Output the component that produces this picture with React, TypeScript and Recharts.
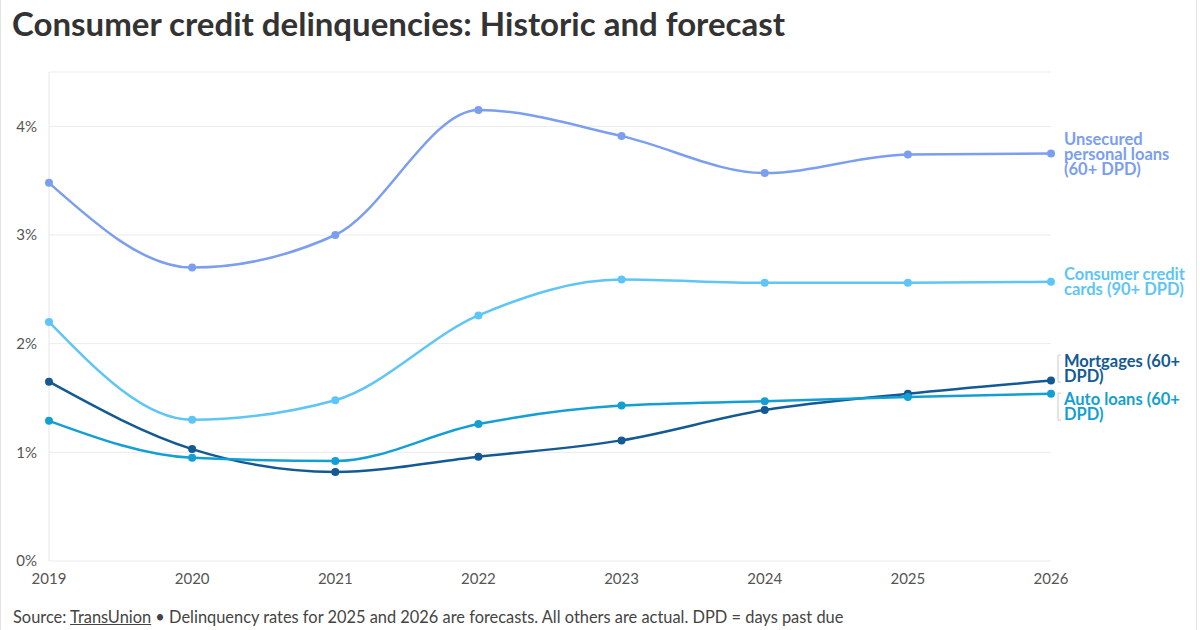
import { LineChart, Line, XAxis, YAxis, CartesianGrid } from "recharts";

const years = [2019, 2020, 2021, 2022, 2023, 2024, 2025, 2026];
const unsecured = [3.48, 2.7, 3.0, 4.15, 3.91, 3.57, 3.74, 3.75];
const cards = [2.2, 1.3, 1.48, 2.26, 2.59, 2.56, 2.56, 2.57];
const mortgages = [1.65, 1.03, 0.82, 0.96, 1.11, 1.39, 1.54, 1.66];
const autoLoans = [1.29, 0.95, 0.92, 1.26, 1.43, 1.47, 1.51, 1.54];
const yTicks = [0, 1, 2, 3, 4];

const data = years.map((year, i) => ({
  year,
  unsecured: unsecured[i],
  cards: cards[i],
  mortgages: mortgages[i],
  auto: autoLoans[i],
}));

const FONT = "Lato, 'Noto Sans', sans-serif";

const series = [
  { key: "unsecured", color: "#7b9ef0", lines: ["Unsecured", "personal loans", "(60+ DPD)"], shift: 0, bracket: false },
  { key: "cards", color: "#5ec5f6", lines: ["Consumer credit", "cards (90+ DPD)"], shift: 0, bracket: false },
  { key: "mortgages", color: "#135a94", lines: ["Mortgages (60+", "DPD)"], shift: -12.5, bracket: true },
  { key: "auto", color: "#139fd3", lines: ["Auto loans (60+", "DPD)"], shift: 12.5, bracket: true },
];

function endLabel(s: (typeof series)[number]) {
  return (props: any) => {
    const { x, y, index } = props;
    if (index !== years.length - 1) return null;
    const n = s.lines.length;
    const cy = y + s.shift;
    const top = cy - (n * 15) / 2;
    return (
      <g key={`lbl-${s.key}`}>
        {s.bracket && (
          <path
            d={`M${x + 10} ${top + 2} H${x + 7} V${top + n * 15 - 1} H${x + 10}`}
            fill="none"
            stroke="#cccccc"
            strokeWidth={1}
          />
        )}
        {s.lines.map((t, i) => (
          <text
            key={t}
            x={x + 13}
            y={cy + (i - (n - 1) / 2) * 15}
            dominantBaseline="central"
            fill={s.color}
            fontSize={16.5}
            fontWeight={700}
            fontFamily={FONT}
          >
            {t}
          </text>
        ))}
      </g>
    );
  };
}

export default function App() {
  return (
    <div
      style={{
        position: "absolute",
        left: 0,
        top: 0,
        width: 1200,
        height: 630,
        background: "#fff",
        fontFamily: FONT,
        overflow: "hidden",
        borderLeft: "1px solid #e4e4e4",
        boxSizing: "border-box",
      }}
    >
      <div
        style={{
          position: "absolute",
          left: 11,
          top: 3,
          fontSize: 33,
          fontWeight: 700,
          color: "#333333",
          whiteSpace: "nowrap",
        }}
      >
        Consumer credit delinquencies: Historic and forecast
      </div>
      <div style={{ position: "absolute", right: 3, top: 0, width: 1, height: 630, background: "#e4e4e4" }} />
      <div style={{ position: "absolute", left: 0, top: 0 }}>
        <LineChart
          width={1200}
          height={630}
          data={data}
          margin={{ top: 72, right: 150, bottom: 39, left: 12 }}
        >
          <CartesianGrid vertical={false} stroke="#ebebeb" />
          <XAxis
            dataKey="year"
            type="number"
            domain={[2019, 2026]}
            ticks={years}
            axisLine={false}
            tickLine={false}
            tickSize={0}
            tickMargin={12}
            tick={{ fill: "#555555", fontSize: 15, fontFamily: FONT }}
          />
          <YAxis
            width={36}
            domain={[0, 4.5]}
            ticks={yTicks}
            tickFormatter={(v) => `${v}%`}
            axisLine={{ stroke: "#e6e6e6" }}
            tickLine={false}
            tickSize={0}
            tickMargin={12}
            tick={{ fill: "#555555", fontSize: 15, fontFamily: FONT }}
          />
          {series.map((s) => (
            <Line
              key={s.key}
              dataKey={s.key}
              type="monotone"
              stroke={s.color}
              strokeWidth={2.5}
              dot={{ r: 4, fill: s.color, stroke: s.color, strokeWidth: 0 }}
              activeDot={false}
              label={endLabel(s)}
              isAnimationActive={false}
            />
          ))}
        </LineChart>
      </div>
      <div
        style={{
          position: "absolute",
          left: 12,
          top: 607,
          fontSize: 16.4,
          color: "#444444",
          whiteSpace: "nowrap",
        }}
      >
        Source: <span style={{ textDecoration: "underline" }}>TransUnion</span> • Delinquency rates for 2025 and 2026
        are forecasts. All others are actual. DPD = days past due
      </div>
    </div>
  );
}
